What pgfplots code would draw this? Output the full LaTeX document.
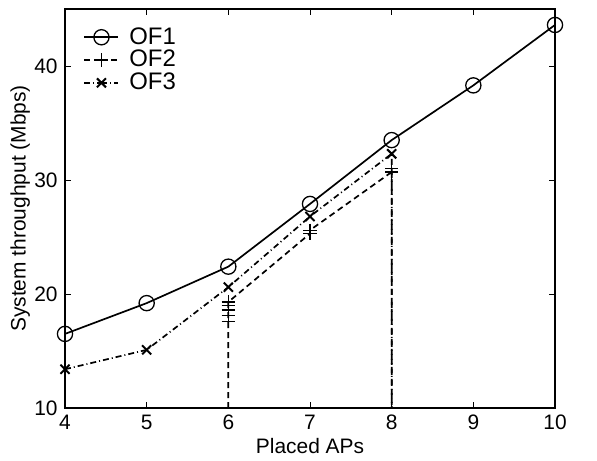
\documentclass[border=0pt]{standalone}
\usepackage{fontspec}
\setmainfont{Liberation Sans}
\usepackage{pgfplots}
\pgfplotsset{compat=1.18}
\begin{document}
\fontsize{10.5}{12}\selectfont
\begin{tikzpicture}
\begin{axis}[
  scale only axis,
  width=245bp, height=199.5bp,
  xmin=4, xmax=10, ymin=10, ymax=45,
  xtick={4,5,6,7,8,9,10},
  ytick={10,20,30,40},
  tick align=inside,
  major tick length=3bp,
  tick style={black, line width=0.4pt},
  axis line style={line width=0.6pt},
  /pgf/number format/assume math mode=true,
  ticklabel style={font=\fontsize{10.5}{12}\selectfont},
  xlabel={Placed APs},
  ylabel={System throughput (Mbps)},
  label style={font=\fontsize{10.5}{12}\selectfont},
  xlabel style={yshift=3bp},
  ylabel style={yshift=-5bp},
  legend style={draw=none, fill=none, at={(0.025,0.975)}, anchor=north west,
    font=\fontsize{12}{13}\selectfont, row sep=-2.5bp},
  legend cell align=left,
  legend image code/.code={
    \draw[#1] (0bp,0bp) -- (8.5bp,0bp);
    \draw[#1, mark indices={1}] plot coordinates {(8.5bp,0bp)};
    \draw[#1] (8.5bp,0bp) -- (17bp,0bp);
  },
  legend style={nodes={inner xsep=5bp}},
]
\addplot[black, line width=0.85pt, mark=o, mark size=3.8bp, mark options={solid, line width=0.65pt}]
coordinates {(4,16.5) (5,19.2) (6,22.4) (7,27.9) (8,33.5) (9,38.3) (10,43.6)};
\addlegendentry{OF1}
\addplot[black, line width=0.85pt, dash pattern=on 3bp off 2bp, mark=+, mark size=3.3bp, mark indices={2,...,10}, mark options={solid, line width=0.65pt}]
coordinates {(6,10) (6,17.6) (6,18.1) (6,18.6) (6,19.0) (6,19.3) (7,25.3) (7,25.6) (8,30.7) (8,31.0) (8,10)};
\addlegendentry{OF2}
\addplot[black, line width=0.85pt, dash pattern=on 3bp off 1.5bp on 0.5bp off 1.5bp, mark=x, mark size=3.2bp, mark indices={1,...,5}, mark options={solid, line width=1pt}]
coordinates {(4,13.4) (5,15.1) (6,20.6) (7,26.8) (8,32.3) (8,10)};
\addlegendentry{OF3}
\end{axis}
\path (current axis.south west) ++(-32.5bp,-25bp) coordinate (bl);
\path (current axis.north east) ++(21bp,4.5bp) coordinate (tr);
\useasboundingbox (bl) rectangle (tr);
\end{tikzpicture}
\end{document}
